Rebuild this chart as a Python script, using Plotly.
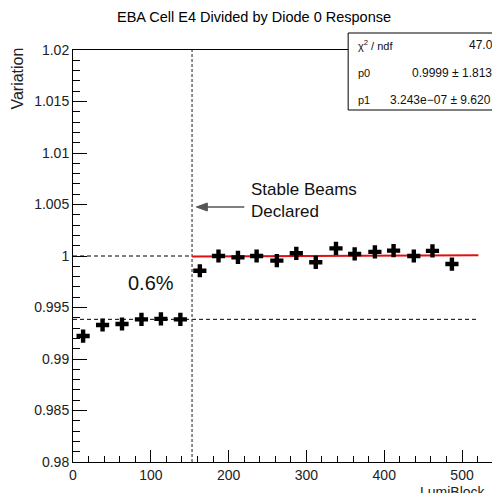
import plotly.graph_objects as go

# ---- data ----
lumi_block = [13, 38, 63, 88, 113, 138, 163, 187, 212, 236, 262, 287, 312, 338, 362, 388, 412, 438, 462, 487]
variation = [0.99223, 0.99330, 0.99340, 0.99385, 0.99390, 0.99385,
             0.99857, 1.00000, 0.99987, 1.00000, 0.99955, 1.00026, 0.99939,
             1.00074, 1.00020, 1.00040, 1.00052, 1.00000, 1.00050, 0.99922]
variation_err = [0.0003] * len(lumi_block)

fit_p0 = 0.9999
fit_p1 = 3.243e-07
fit_range = [153, 521]
stable_beams_lb = 153
plateau_before = 0.99385
plateau_after = 1.0

y_ticks = [0.98, 0.985, 0.99, 0.995, 1.0, 1.005, 1.01, 1.015, 1.02]
y_tick_text = ["0.98", "0.985", "0.99", "0.995", "1", "1.005", "1.01", "1.015", "1.02"]
x_ticks = [0, 100, 200, 300, 400, 500]

stats_labels = ["χ<sup>2</sup> / ndf", "p0", "p1"]
stats_values = ["47.0", "0.9999 ± 1.813", "3.243e−07 ± 9.620"]

# ---- geometry (pixels) ----
W, H = 492, 493
ML, MR, MT, MB = 72.5, 0, 50, 31
PW, PH = W - ML - MR, H - MT - MB


def px(x):
    return (x - ML) / PW


def py(y):
    return (H - MB - y) / PH


FONT = "Liberation Sans, Arial, Helvetica, sans-serif"

fig = go.Figure()

# dashed reference lines
fig.add_trace(go.Scatter(x=[0, stable_beams_lb], y=[plateau_after, plateau_after], mode="lines",
                         line=dict(color="black", width=1, dash="4px,3px"), hoverinfo="skip", showlegend=False))
fig.add_trace(go.Scatter(x=[0, fit_range[1]], y=[plateau_before, plateau_before], mode="lines",
                         line=dict(color="black", width=1, dash="4px,3px"), hoverinfo="skip", showlegend=False))
fig.add_trace(go.Scatter(x=[stable_beams_lb, stable_beams_lb], y=[y_ticks[0], y_ticks[-1]], mode="lines",
                         line=dict(color="#444444", width=1.2, dash="3px,2px"), hoverinfo="skip", showlegend=False))

# fit line
fit_y = [fit_p0 + fit_p1 * x for x in fit_range]
fig.add_trace(go.Scatter(x=fit_range, y=fit_y, mode="lines",
                         line=dict(color="#e01010", width=2), hoverinfo="skip", showlegend=False))

# data points
fig.add_trace(go.Scatter(x=lumi_block, y=variation, mode="markers",
                         marker=dict(symbol="cross", size=11, color="black"),
                         error_y=dict(type="data", array=variation_err, color="black", thickness=1.2, width=0),
                         showlegend=False))

annotations = [
    dict(text="EBA Cell E4 Divided by Diode 0 Response", xref="paper", yref="paper",
         x=px(254), y=py(17), xanchor="center", yanchor="middle", showarrow=False,
         font=dict(family=FONT, size=14.5, color="black")),
    dict(text="Variation", xref="paper", yref="paper", x=px(17), y=py(79), textangle=-90,
         xanchor="center", yanchor="middle", showarrow=False, font=dict(family=FONT, size=16, color="#222")),
    dict(text="LumiBlock", xref="paper", yref="paper", x=px(418), y=py(482), xanchor="left", yanchor="top",
         showarrow=False, font=dict(family=FONT, size=14, color="#222")),
    dict(text="Stable Beams<br>Declared", xref="paper", yref="paper", x=px(249), y=py(201),
         xanchor="left", yanchor="middle", align="left", showarrow=False,
         font=dict(family=FONT, size=17, color="#111")),
    dict(text="0.6%", xref="paper", yref="paper", x=px(151), y=py(283), xanchor="center", yanchor="middle",
         showarrow=False, font=dict(family=FONT, size=20, color="#111")),
]

row_y = [45, 73, 100]
for lab, ry in zip(stats_labels, row_y):
    annotations.append(dict(text=lab, xref="paper", yref="paper", x=px(356), y=py(ry), xanchor="left",
                            yanchor="middle", showarrow=False, font=dict(family=FONT, size=11, color="#111")))
stats_x = [467, 410, 388]
for val, ry, sx in zip(stats_values, row_y, stats_x):
    annotations.append(dict(text=val, xref="paper", yref="paper", x=px(sx), y=py(ry), xanchor="left",
                            yanchor="middle", showarrow=False, font=dict(family=FONT, size=12, color="#111")))

ay_px = 207
shapes = [
    dict(type="rect", xref="paper", yref="paper", x0=px(348), x1=px(W + 20), y0=py(110), y1=py(33),
         line=dict(color="black", width=1), fillcolor="white", layer="above"),
    # arrow shaft
    dict(type="line", xref="paper", yref="paper", x0=px(203), x1=px(244), y0=py(ay_px), y1=py(ay_px),
         line=dict(color="#555555", width=1.6), layer="above"),
    # arrow head
    dict(type="path", xref="paper", yref="paper",
         path="M {:.5f},{:.5f} L {:.5f},{:.5f} L {:.5f},{:.5f} Z".format(
             px(196), py(ay_px), px(207), py(ay_px - 4), px(207), py(ay_px + 4)),
         line=dict(color="#555555", width=1), fillcolor="#555555", layer="above"),
]

fig.update_layout(
    width=W, height=H,
    margin=dict(l=ML, r=MR, t=MT, b=MB, pad=0),
    paper_bgcolor="white", plot_bgcolor="white",
    showlegend=False,
    annotations=annotations,
    shapes=shapes,
    xaxis=dict(range=[0, PW / 0.779], showgrid=False, zeroline=False, showline=True, linecolor="black",
               linewidth=1, mirror=True, ticks="inside", ticklen=12, tickwidth=1, tickcolor="black",
               tickvals=x_ticks, tickfont=dict(family=FONT, size=14, color="#222"),
               minor=dict(ticks="inside", ticklen=6, dtick=20, tickcolor="black", showgrid=False)),
    yaxis=dict(range=[y_ticks[0], y_ticks[-1]], showgrid=False, zeroline=False, showline=True,
               linecolor="black", linewidth=1, mirror=False, ticks="inside", ticklen=14, tickwidth=1,
               tickcolor="black", tickvals=y_ticks, ticktext=y_tick_text,
               tickfont=dict(family=FONT, size=14, color="#222"),
               minor=dict(ticks="inside", ticklen=7, dtick=0.001, tickcolor="black", showgrid=False)),
)

fig.write_html("out.html")
